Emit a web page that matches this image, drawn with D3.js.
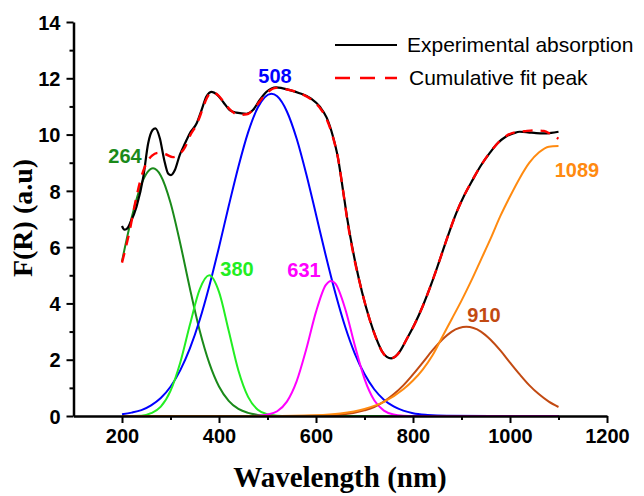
<!DOCTYPE html>
<html><head><meta charset="utf-8">
<script src="https://cdn.jsdelivr.net/npm/d3@7"></script>
<style>body{margin:0;background:#fff}svg{display:block}</style>
</head><body><svg id="c" width="644" height="496"></svg>
<script>
// ---- data ----
const xTicks = [200, 400, 600, 800, 1000, 1200];
const xMinor = [300, 500, 700, 900, 1100];
const yTicks = [0, 2, 4, 6, 8, 10, 12, 14];
const yMinor = [1, 3, 5, 7, 9, 11, 13];

const expX = [200,205,210,218,230,244,254,263,269,278,287,295,301,309,319,330,340,354,364,374,385,396,409,422,436,457,470,484,498,518,546,566,590,608,622,635,645,655,665,680,695,711,725,736,746,755,764,774,786,803,820,838,855,872,889,906,923,940,958,975,992,1008,1020,1037,1054,1070,1085,1100];
const expY = [6.75,6.62,6.65,6.9,7.44,8.5,9.69,10.16,10.22,9.87,9.1,8.62,8.56,8.74,9.27,9.69,10.05,10.4,10.87,11.35,11.52,11.42,11.15,10.87,10.78,10.74,10.87,11.23,11.52,11.68,11.58,11.47,11.28,10.99,10.6,9.93,9.2,8.1,6.95,5.54,4.4,3.41,2.72,2.3,2.1,2.05,2.12,2.32,2.7,3.25,3.9,4.7,5.54,6.4,7.2,7.85,8.39,8.9,9.34,9.7,9.93,10.05,10.1,10.08,10.05,10.04,10.06,10.1];

const fitX = [200,216,227,240,251,262,275,290,305,318,330,340,355,365,375,385,398,410,425,440,457,470,485,500,518,546,570,590,608,622,635,645,655,665,680,695,711,725,736,746,755,764,774,786,803,820,838,855,872,889,906,923,940,958,975,992,1010,1030,1050,1070,1085,1100];
const fitY = [5.45,6.6,7.56,8.5,9.0,9.25,9.35,9.3,9.2,9.3,9.55,9.95,10.4,10.85,11.3,11.5,11.4,11.15,10.85,10.7,10.72,10.87,11.2,11.5,11.66,11.58,11.45,11.25,10.95,10.55,9.9,9.2,8.1,6.9,5.5,4.4,3.41,2.72,2.3,2.1,2.05,2.12,2.32,2.7,3.25,3.9,4.7,5.54,6.4,7.2,7.85,8.4,8.9,9.35,9.7,9.95,10.08,10.12,10.15,10.13,10.0,9.85];

const p264X = [200,220,240,264,280,300,320,340,360,380,400,420,440,460,480,500,520,1100];
const p264Y = [5.5,7.05,8.24,8.8,8.54,7.58,6.14,4.53,3.05,1.88,1.05,0.54,0.25,0.11,0.04,0.01,0,0];

const p380X = [200,240,260,280,300,320,340,360,380,400,420,440,460,480,500,520,540,1100];
const p380Y = [0,0.01,0.1,0.33,0.89,1.89,3.24,4.49,5.0,4.41,3.03,1.62,0.68,0.22,0.06,0.01,0,0];

const p508X = [200,220,240,260,280,300,320,340,360,380,400,420,440,460,480,508,520,540,560,580,600,620,640,660,680,700,720,740,760,780,800,830,870,1100];
const p508Y = [0.06,0.12,0.21,0.38,0.64,1.04,1.62,2.4,3.4,4.62,6.0,7.46,8.86,10.08,10.96,11.45,11.36,10.82,9.86,8.59,7.16,5.71,4.36,3.18,2.22,1.49,0.95,0.58,0.34,0.19,0.1,0.04,0.01,0];

const p631X = [200,460,480,500,520,540,560,580,600,620,631,640,660,680,700,720,740,760,780,800,1100];
const p631Y = [0,0,0.01,0.05,0.17,0.51,1.23,2.38,3.7,4.65,4.8,4.7,3.82,2.51,1.32,0.56,0.19,0.05,0.01,0,0];

const p910X = [200,550,600,650,700,720,740,760,780,800,820,840,860,880,910,940,960,980,1000,1020,1040,1060,1080,1100];
const p910Y = [0,0,0.01,0.04,0.2,0.32,0.51,0.77,1.09,1.48,1.9,2.33,2.71,3.0,3.17,3.0,2.71,2.33,1.9,1.48,1.09,0.77,0.51,0.32];

const p1089X = [200,450,500,600,650,700,740,780,800,820,840,860,880,900,920,940,960,980,1000,1020,1040,1060,1080,1100];
const p1089Y = [0,0,0.002,0.03,0.09,0.25,0.5,0.95,1.26,1.65,2.15,2.8,3.45,4.1,4.8,5.55,6.3,7.1,7.8,8.45,9.0,9.37,9.57,9.59];

const peakLabels = ["264", "380", "508", "631", "910", "1089"];
const legendLabels = ["Experimental absorption", "Cumulative fit peak"];

// ---- drawing ----
const svg = d3.select("#c");
const L = 73.5, R = 607, T = 22, B = 416;
const x = d3.scaleLinear().domain([100, 1200]).range([L, R]);
const y = d3.scaleLinear().domain([0, 14]).range([B, T]);

const line = d3.line().x(d => x(d[0])).y(d => y(d[1])).curve(d3.curveMonotoneX);
const zip = (a, b) => a.map((v, i) => [v, b[i]]);

const comps = [
  {X: p264X, Y: p264Y, c: "#1a8a1a"},
  {X: p508X, Y: p508Y, c: "#0000ff"},
  {X: p380X, Y: p380Y, c: "#22ee22"},
  {X: p631X, Y: p631Y, c: "#ff00ff"},
  {X: p910X, Y: p910Y, c: "#c24a12"},
  {X: p1089X, Y: p1089Y, c: "#ff8a10"}
];
comps.forEach(s => {
  svg.append("path").attr("d", line(zip(s.X, s.Y)))
    .attr("fill", "none").attr("stroke", s.c).attr("stroke-width", 2);
});
svg.append("path").attr("d", line(zip(expX, expY)))
  .attr("fill", "none").attr("stroke", "#000").attr("stroke-width", 2.2);
svg.append("path").attr("d", line(zip(fitX, fitY)))
  .attr("fill", "none").attr("stroke", "#ff0000").attr("stroke-width", 2.4)
  .attr("stroke-dasharray", "10,8");

// axes
const axFont = "'Liberation Sans', Arial, sans-serif";
const xa = svg.append("g").attr("transform", `translate(0,${B})`)
  .call(d3.axisBottom(x).tickValues(xTicks).tickSize(7).tickSizeOuter(0).tickPadding(6).tickFormat(d3.format("d")));
const xm = svg.append("g").attr("transform", `translate(0,${B})`)
  .call(d3.axisBottom(x).tickValues(xMinor).tickSize(4).tickSizeOuter(0).tickFormat(""));
const ya = svg.append("g").attr("transform", `translate(${L},0)`)
  .call(d3.axisLeft(y).tickValues(yTicks).tickSize(7).tickSizeOuter(0).tickPadding(6).tickFormat(d3.format("d")));
const ym = svg.append("g").attr("transform", `translate(${L},0)`)
  .call(d3.axisLeft(y).tickValues(yMinor).tickSize(4).tickSizeOuter(0).tickFormat(""));
[xa, xm, ya, ym].forEach(g => {
  g.select(".domain").attr("stroke", "#000").attr("stroke-width", 2.5);
  g.selectAll(".tick line").attr("stroke", "#000").attr("stroke-width", 2);
  g.selectAll("text").attr("fill", "#000").attr("font-family", axFont)
    .attr("font-weight", "bold").attr("font-size", 20);
});
xm.select(".domain").remove(); ym.select(".domain").remove();
ya.selectAll("text").attr("dy", "0.36em");

// axis titles
const serif = "'Liberation Serif', 'Times New Roman', serif";
svg.append("text").attr("x", 340).attr("y", 487).attr("text-anchor", "middle")
  .attr("font-family", serif).attr("font-weight", "bold").attr("font-size", 29)
  .text("Wavelength (nm)");
svg.append("text").attr("transform", "translate(32,218) rotate(-90)").attr("text-anchor", "middle")
  .attr("font-family", serif).attr("font-weight", "bold").attr("font-size", 28)
  .text("F(R) (a.u)");

// peak labels
const lab = [
  {t: peakLabels[0], c: "#1a8a1a", xp: 125, yp: 163, f: axFont},
  {t: peakLabels[1], c: "#22ee22", xp: 237, yp: 276, f: axFont},
  {t: peakLabels[2], c: "#0000ff", xp: 275, yp: 83, f: axFont},
  {t: peakLabels[3], c: "#ff00ff", xp: 304, yp: 277, f: axFont},
  {t: peakLabels[4], c: "#c24a12", xp: 484, yp: 322, f: axFont},
  {t: peakLabels[5], c: "#ff8a10", xp: 577, yp: 177, f: axFont}
];
lab.forEach(l => svg.append("text").attr("x", l.xp).attr("y", l.yp)
  .attr("text-anchor", "middle").attr("font-family", l.f).attr("font-weight", "bold")
  .attr("font-size", 20).attr("fill", l.c).text(l.t));

// legend
svg.append("line").attr("x1", 335).attr("x2", 397).attr("y1", 45).attr("y2", 45)
  .attr("stroke", "#000").attr("stroke-width", 2.2);
svg.append("line").attr("x1", 335).attr("x2", 397).attr("y1", 78).attr("y2", 78)
  .attr("stroke", "#ff0000").attr("stroke-width", 2.4).attr("stroke-dasharray", "15,10");
svg.append("text").attr("x", 407).attr("y", 52).attr("font-family", axFont)
  .attr("font-size", 21).attr("fill", "#000").text(legendLabels[0]);
svg.append("text").attr("x", 409).attr("y", 85).attr("font-family", axFont)
  .attr("font-size", 21).attr("fill", "#000").text(legendLabels[1]);
</script></body></html>
